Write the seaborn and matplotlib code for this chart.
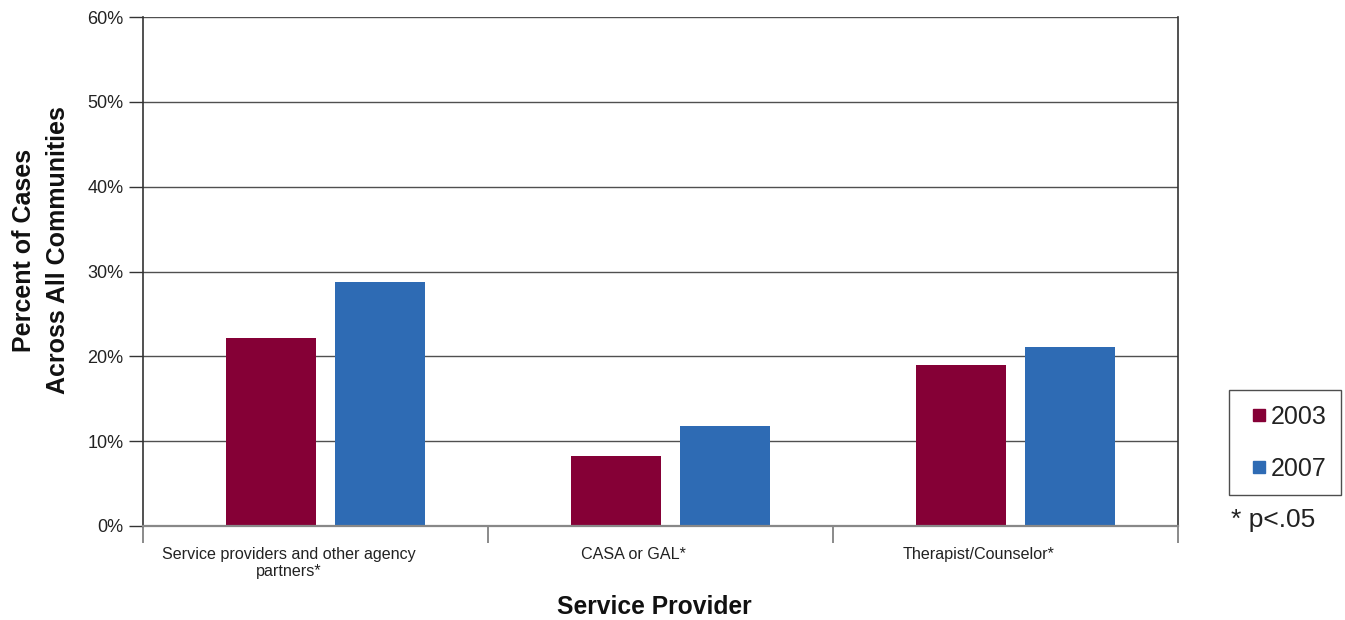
import matplotlib
matplotlib.use("Agg")
import matplotlib.pyplot as plt
from matplotlib.lines import Line2D
from matplotlib.ticker import FixedLocator, PercentFormatter
import seaborn as sns
import pandas as pd

categories = ["Service providers and other agency\npartners*", "CASA or GAL*", "Therapist/Counselor*"]
years = ["2003", "2007"]
values_2003 = [22.2, 8.2, 19.0]
values_2007 = [28.8, 11.8, 21.1]
colors = ["#850036", "#2E6BB4"]
yticks = [0, 10, 20, 30, 40, 50, 60]

df = pd.DataFrame({
    "cat": categories * 2,
    "year": [years[0]] * 3 + [years[1]] * 3,
    "val": values_2003 + values_2007,
})

sns.set_theme(style="white")
plt.rcParams["font.family"] = ["Liberation Sans", "DejaVu Sans"]

fig = plt.figure(figsize=(13.45, 6.2), dpi=100)
ax = fig.add_axes([143/1345, 1-526/620, (1178-143)/1345, (526-17)/620])

sns.barplot(data=df, x="cat", y="val", hue="year", order=categories, hue_order=years,
            palette=colors, width=0.632, gap=0.174, saturation=1, ax=ax, legend=False,
            errorbar=None, zorder=3, linewidth=0, edgecolor="none")

shift = 0.028
ax.set_ylim(0, 60)
ax.set_xlim(-0.5 - shift, 2.5 - shift)
ax.set_yticks(yticks)
ax.yaxis.set_major_formatter(PercentFormatter(decimals=0))
ax.tick_params(axis="y", length=10, width=1, color="#333333", labelsize=13, pad=4, left=True,
               labelcolor="#222222")
ax.grid(axis="y", color="#505050", linewidth=1, zorder=0)
ax.grid(axis="x", visible=False)

ax.set_xticks([i - 0.105 for i in range(3)])
ax.set_xticklabels(categories, fontsize=11.6, color="#222222")
ax.tick_params(axis="x", which="major", length=0, pad=15)
ax.xaxis.set_minor_locator(FixedLocator([b - shift for b in [-0.5, 0.5, 1.5, 2.5]]))
ax.tick_params(axis="x", which="minor", length=12, width=1.2, color="#777777", bottom=True)

for s in ["left", "right"]:
    ax.spines[s].set_color("#333333")
    ax.spines[s].set_linewidth(1.2)
ax.spines["top"].set_visible(False)
ax.spines["bottom"].set_color("#888888")
ax.spines["bottom"].set_linewidth(1.6)
ax.spines["bottom"].set_zorder(4)

ax.set_xlabel("")
ax.set_ylabel("Percent of Cases\nAcross All Communities", fontsize=18, fontweight="bold",
              color="#111111", linespacing=1.5)
ax.yaxis.set_label_coords(-0.071, 0.542)

fig.text(654/1345, 1-607/620, "Service Provider", fontsize=17.7, fontweight="bold",
         color="#111111", ha="center", va="center")

handles = [Line2D([], [], marker="s", linestyle="none", markersize=9,
                  markerfacecolor=c, markeredgecolor=c) for c in colors]
leg = fig.legend(handles, years, loc="lower left", bbox_to_anchor=(1229/1345, 1-495/620),
                 fontsize=18, frameon=True, fancybox=False, handlelength=1.2,
                 handletextpad=-0.1, labelspacing=1.12, borderpad=0.58, borderaxespad=0)
leg.get_frame().set_edgecolor("#222222")
leg.get_frame().set_linewidth(1)
for t in leg.get_texts():
    t.set_color("#222222")

fig.text(1231/1345, 1-520/620, "* p<.05", fontsize=19, color="#222222", ha="left", va="center")

fig.savefig("out.png", dpi=100)
